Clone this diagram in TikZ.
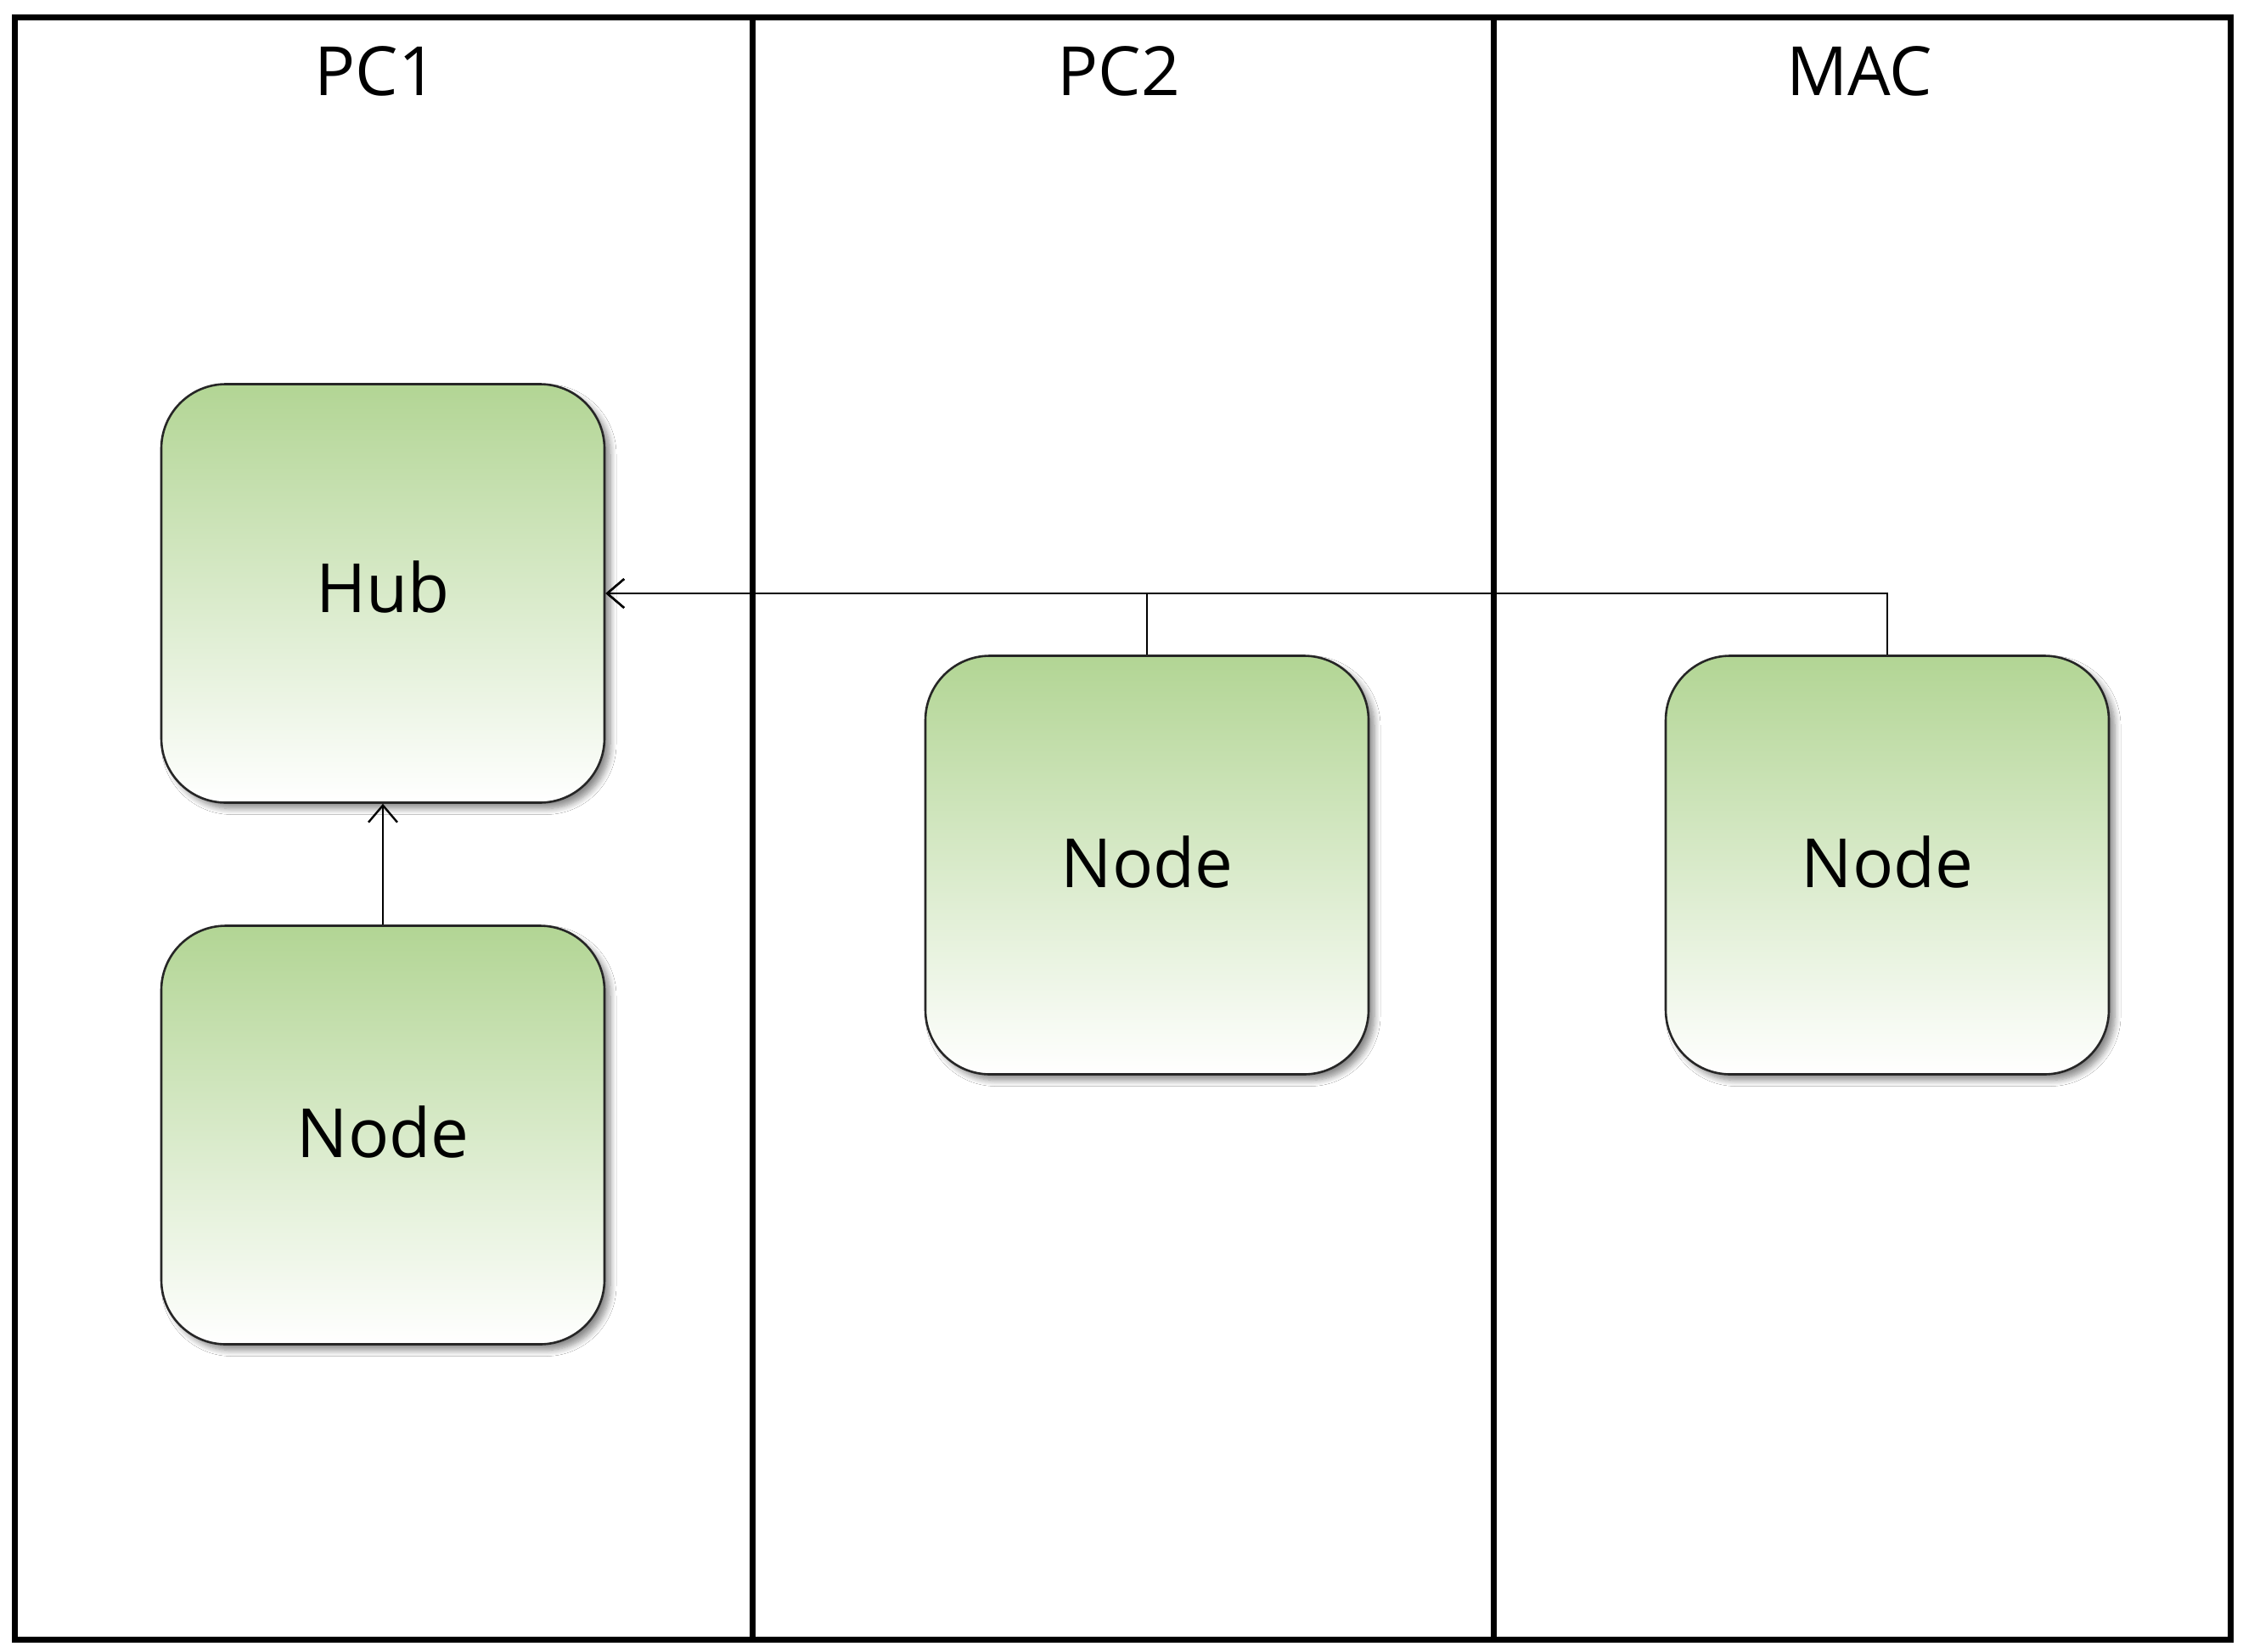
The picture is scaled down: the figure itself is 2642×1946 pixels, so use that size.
\documentclass[tikz,border=0pt]{standalone}
\usepackage{fontspec}
\setmainfont{Open Sans}
\usetikzlibrary{arrows.meta,shadows.blur}
\definecolor{boxgreen}{RGB}{178,213,148}
\tikzset{
  lane/.style={line width=7pt, draw=black},
  title/.style={font=\fontsize{80}{96}\selectfont, anchor=center},
  rbox/.style={rounded corners=76pt, draw=black!85, line width=2.6pt,
    top color=boxgreen, bottom color=white, minimum width=522pt, minimum height=493pt,
    font=\fontsize{80}{96}\selectfont, inner sep=0pt,
    blur shadow={shadow xshift=7pt, shadow yshift=-7pt, shadow blur steps=8, shadow blur radius=7pt, shadow opacity=45}},
  lbl/.style={font=\fontsize{80}{96}\selectfont, inner sep=0pt},
  conn/.style={line width=2.4pt, draw=black, -{Straight Barb[length=20pt,width=34pt,line width=2.4pt]}},
}
\begin{document}
\begin{tikzpicture}[x=1pt,y=-1pt]
\useasboundingbox (0,0) rectangle (2642,1946);
\fill[white] (0,0) rectangle (2642,1946);
% lanes
\draw[lane] (17,20) rectangle (2627,1931);
\draw[lane] (886,20) -- (886,1931);
\draw[lane] (1759,20) -- (1759,1931);
\node[title] (t1) at (443,84) {PC1};
\node[title] (t2) at (1318,84) {PC2};
\node[title] (t3) at (2190,84) {MAC};
% boxes
\node[rbox] (hub) at (451,699) {};
\node[rbox] (n1) at (451,1337) {};
\node[rbox] (n2) at (1351,1019) {};
\node[rbox] (n3) at (2223,1019) {};
\node[lbl] (hubl) at ([yshift=8pt]hub.center) {Hub};
\node[lbl] (n1l) at ([yshift=4pt]n1.center) {Node};
\node[lbl] (n2l) at ([yshift=4pt]n2.center) {Node};
\node[lbl] (n3l) at ([yshift=4pt]n3.center) {Node};
% connectors
\draw[conn] (n1.north) -- (hub.south);
\draw[conn] (n3.north) |- (hub.east);
\draw[conn] (n2.north) |- (hub.east);
\end{tikzpicture}
\end{document}
